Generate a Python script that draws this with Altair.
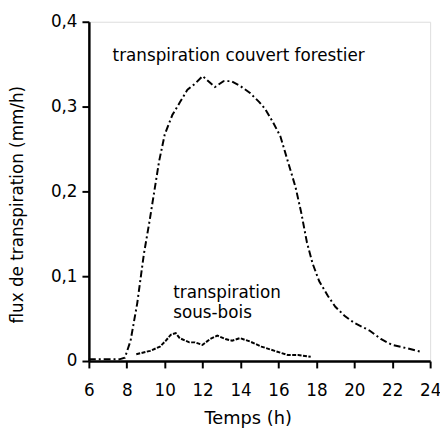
import altair as alt
import pandas as pd

forest_h = [6.0, 7.0, 7.6, 7.9, 8.2, 8.55, 8.9, 9.2, 9.45, 9.7, 10.0, 10.4, 10.8, 11.2, 11.6, 12.0,
            12.35, 12.65, 13.1, 13.5, 14.0, 14.5, 15.0, 15.3, 15.7, 16.1, 16.5, 16.9, 17.2, 17.5,
            17.8, 18.15, 18.6, 19.0, 19.5, 20.0, 20.8, 21.4, 22.0, 22.8, 23.5]
forest_v = [0.002, 0.002, 0.002, 0.004, 0.024, 0.068, 0.126, 0.165, 0.2, 0.235, 0.267, 0.29, 0.305,
            0.320, 0.327, 0.336, 0.329, 0.323, 0.330, 0.330, 0.324, 0.316, 0.305, 0.297, 0.282,
            0.265, 0.235, 0.205, 0.175, 0.14, 0.115, 0.094, 0.077, 0.064, 0.053, 0.045, 0.036,
            0.026, 0.019, 0.015, 0.011]

sous_h = [8.5, 9.23, 9.75, 10.06, 10.32, 10.58, 10.79, 11.3, 11.6, 11.99, 12.4, 12.77, 13.2, 13.55,
          13.97, 14.5, 15.1, 15.8, 16.5, 17.04, 17.7]
sous_v = [0.008, 0.012, 0.017, 0.024, 0.031, 0.033, 0.027, 0.022, 0.022, 0.019, 0.026, 0.030, 0.026,
          0.024, 0.027, 0.023, 0.017, 0.012, 0.007, 0.007, 0.005]

label_text = ["transpiration couvert forestier", "transpiration", "sous-bois"]
label_h = [7.25, 10.45, 10.45]
label_v = [0.36, 0.080, 0.056]

x_ticks = list(range(6, 25, 2))
y_ticks = [0, 0.1, 0.2, 0.3, 0.4]

FONT = "DejaVu Sans"

df_f = pd.DataFrame({"h": forest_h, "v": forest_v})
df_s = pd.DataFrame({"h": sous_h, "v": sous_v})
df_t = pd.DataFrame({"h": label_h, "v": label_v, "t": label_text})

xs = alt.Scale(domain=[6, 24], nice=False, zero=False)
ys = alt.Scale(domain=[0, 0.4], nice=False)

xaxis = alt.Axis(values=x_ticks, title="Temps (h)", grid=False, domainWidth=2.5, domainColor="black",
                 tickColor="black", tickWidth=2, tickSize=7, labelFontSize=17, labelFont=FONT,
                 labelColor="black", labelOverlap=False, labelFlush=False,
                 titleFont=FONT, titleFontSize=18, titleFontWeight="normal",
                 titleColor="black", labelPadding=15, titlePadding=11, titleX=161)
yaxis = alt.Axis(values=y_ticks, title="flux de transpiration (mm/h)", grid=False, domainWidth=2.5,
                 domainColor="black", tickColor="black", tickWidth=2, tickSize=7, labelFontSize=17,
                 labelFont=FONT, labelColor="black", labelOverlap=False, labelFlush=False,
                 labelPadding=5, titleFont=FONT, titleFontSize=17,
                 titleFontWeight="normal", titleColor="black", titlePadding=24, titleY=185,
                 labelExpr="datum.value == 0 ? '0' : replace(format(datum.value, '.1f'), '.', ',')")

X = alt.X("h:Q", scale=xs, axis=xaxis)
Y = alt.Y("v:Q", scale=ys, axis=yaxis)

forest = alt.Chart(df_f).mark_line(color="black", strokeWidth=2, strokeDash=[7, 3, 2, 3]).encode(
    x=X, y=Y,
)
sous = alt.Chart(df_s).mark_line(color="black", strokeWidth=2, strokeDash=[4, 1.5]).encode(
    x=X, y=Y,
)
texts = alt.Chart(df_t).mark_text(align="left", baseline="middle", fontSize=17, font=FONT,
                                  color="black").encode(
    x=X, y=Y, text="t:N",
)

chart = (forest + sous + texts).properties(
    width=346, height=344,
    autosize=alt.AutoSizeParams(type="none"),
    padding={"left": 82, "top": 11, "right": 10, "bottom": 68},
).configure_view(stroke="black", strokeWidth=1.5).configure_axis(
    labelOverlap=False
).configure(background="white")

chart.save("out.html", embed_options={"renderer": "svg", "actions": False})
